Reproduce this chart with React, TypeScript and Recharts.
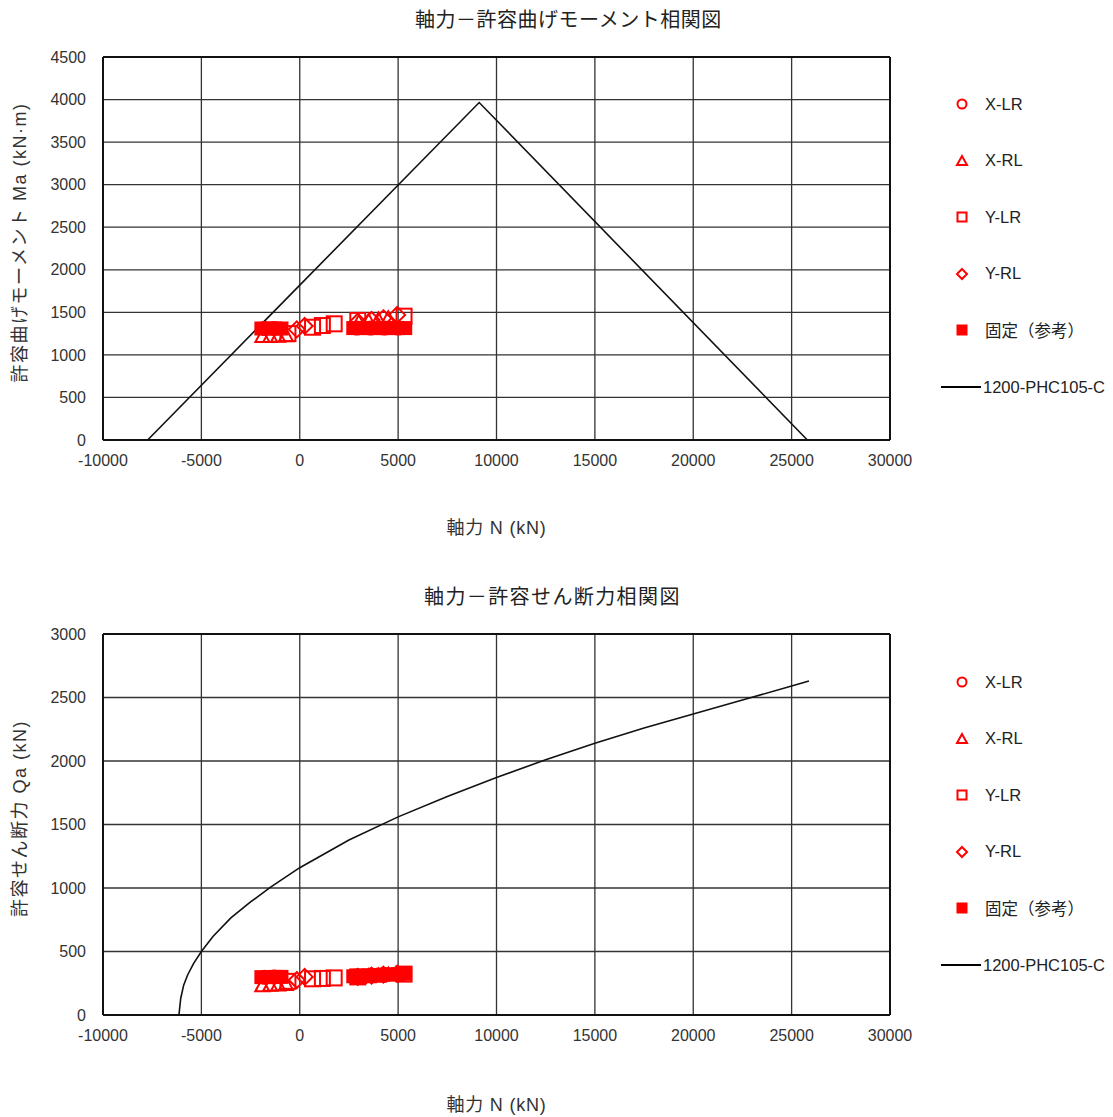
import React from "react";
import {
  ComposedChart,
  Scatter,
  Line,
  XAxis,
  YAxis,
  CartesianGrid,
  ReferenceLine,
} from "recharts";

const RED = "#ff0000";
const FONT = '"Liberation Sans", "Noto Sans CJK JP", sans-serif';

const nTicks = [-10000, -5000, 0, 5000, 10000, 15000, 20000, 25000, 30000];
const maTicks = [0, 500, 1000, 1500, 2000, 2500, 3000, 3500, 4000, 4500];
const qaTicks = [0, 500, 1000, 1500, 2000, 2500, 3000];

// X-LR (circles, mostly hidden behind the filled squares)
const xlrN = [-1800, -1300, 2900, 3600, 4300, 5000];
const xlrMa = [1310, 1310, 1315, 1315, 1315, 1315];
const xlrQa = [298, 300, 308, 314, 318, 322];

// X-RL (triangles)
const xrlN = [-1900, -1500, -1100, -700, 3000, 3500, 4000, 4500];
const xrlMa = [1222, 1222, 1225, 1230, 1385, 1400, 1415, 1430];
const xrlQa = [235, 238, 240, 245, 300, 305, 310, 318];

// Y-LR (open squares)
const ylrN = [-600, 650, 1150, 1750, 2950, 5300];
const ylrMa = [1250, 1325, 1345, 1365, 1405, 1455];
const ylrQa = [265, 285, 288, 292, 300, 322];

// Y-RL (diamonds)
const yrlN = [-150, 250, 2950, 3650, 4250, 4950];
const yrlMa = [1300, 1340, 1390, 1410, 1430, 1470];
const yrlQa = [275, 300, 300, 310, 318, 325];

// 固定(参考) (filled squares)
const fixN = [-1950, -1600, -1250, -930, 2720, 3100, 3480, 3860, 4240, 4620, 5000, 5360];
const fixMa = [1310, 1310, 1310, 1310, 1315, 1315, 1315, 1315, 1315, 1315, 1315, 1315];
const fixQa = [298, 298, 300, 300, 305, 308, 312, 315, 318, 320, 322, 325];

// 1200-PHC105-C capacity curves
const curveMN = [-7730, 9120, 25800];
const curveMa = [0, 3965, 0];
const curveQN = [-6140, -6050, -5900, -5700, -5400, -5000, -4400, -3500, -2500, -1500, 0, 2500, 5000, 7500, 10000, 12500, 15000, 17500, 20000, 22500, 25000, 25880];
const curveQa = [0, 130, 235, 315, 405, 500, 620, 765, 890, 1005, 1160, 1378, 1560, 1720, 1870, 2010, 2140, 2260, 2370, 2480, 2590, 2630];

const legendNames = ["X-LR", "X-RL", "Y-LR", "Y-RL", "固定（参考）", "1200-PHC105-C"];

const pts = (n: number[], v: number[]) => n.map((x, i) => ({ n: x, v: v[i] }));

const Circle = (p: any) => (
  <circle cx={p.cx} cy={p.cy} r={6.5} fill="none" stroke={RED} strokeWidth={2} />
);
const Triangle = (p: any) => (
  <polygon
    points={`${p.cx},${p.cy - 7} ${p.cx - 7},${p.cy + 6} ${p.cx + 7},${p.cy + 6}`}
    fill="none"
    stroke={RED}
    strokeWidth={2}
  />
);
const OpenSquare = (p: any) => (
  <rect x={p.cx - 7.5} y={p.cy - 7.5} width={15} height={15} fill="none" stroke={RED} strokeWidth={2} />
);
const Diamond = (p: any) => (
  <polygon
    points={`${p.cx},${p.cy - 8} ${p.cx + 8},${p.cy} ${p.cx},${p.cy + 8} ${p.cx - 8},${p.cy}`}
    fill="none"
    stroke={RED}
    strokeWidth={2}
  />
);
const FilledSquare = (p: any) => (
  <rect x={p.cx - 7} y={p.cy - 7} width={14} height={14} fill={RED} />
);

const LegendIcon = ({ i }: { i: number }) => {
  if (i === 5)
    return (
      <svg width={42} height={20}>
        <line x1={0} y1={10} x2={40} y2={10} stroke="#000" strokeWidth={2} />
      </svg>
    );
  return (
    <svg width={42} height={20}>
      {i === 0 && <circle cx={21} cy={10} r={4.5} fill="none" stroke={RED} strokeWidth={2} />}
      {i === 1 && <polygon points="21,5 16,14 26,14" fill="none" stroke={RED} strokeWidth={2} />}
      {i === 2 && <rect x={16.5} y={5.5} width={9} height={9} fill="none" stroke={RED} strokeWidth={2} />}
      {i === 3 && <polygon points="21,5 26,10 21,15 16,10" fill="none" stroke={RED} strokeWidth={2} />}
      {i === 4 && <rect x={15.5} y={4.5} width={11} height={11} fill={RED} />}
    </svg>
  );
};

const Legend = ({ top }: { top: number }) => (
  <>
    {legendNames.map((name, i) => (
      <div
        key={name}
        style={{
          position: "absolute",
          left: 941,
          top: top + i * 56.6 - 10,
          height: 20,
          display: "flex",
          alignItems: "center",
          fontFamily: FONT,
          fontSize: 16.5,
          color: "#222",
          whiteSpace: "nowrap",
        }}
      >
        <LegendIcon i={i} />
        <span style={{ marginLeft: i === 5 ? 0 : 2 }}>{name}</span>
      </div>
    ))}
  </>
);

type PanelProps = {
  top: number;
  height: number;
  title: string;
  titleLeft: number;
  titleSpacing: number;
  yLabel: string;
  yTicks: number[];
  vals: number[][];
  curveN: number[];
  curveV: number[];
  labelOffset: number;
  bottom: number;
};

const Panel = (p: PanelProps) => {
  const yMax = p.yTicks[p.yTicks.length - 1];
  return (
    <>
      <div
        style={{
          position: "absolute",
          left: p.titleLeft,
          top: p.top + 4,
          fontFamily: FONT,
          fontSize: 20,
          letterSpacing: p.titleSpacing,
          color: "#222",
          whiteSpace: "nowrap",
        }}
      >
        {p.title}
      </div>
      <div style={{ position: "absolute", left: 0, top: p.top }}>
        <ComposedChart
          width={1113}
          height={p.height}
          margin={{ top: 57, right: 223, bottom: p.bottom, left: 0 }}
        >
          <CartesianGrid stroke="#333" strokeWidth={1.3} />
          <XAxis
            type="number"
            dataKey="n"
            domain={[-10000, 30000]}
            ticks={nTicks}
            interval={0}
            height={100}
            tickLine={false}
            tickSize={0}
            tickMargin={15}
            axisLine={{ stroke: "#111", strokeWidth: 2 }}
            tick={{ fill: "#333", fontSize: 16, fontFamily: FONT }}
            label={{
              value: "軸力 N (kN)",
              position: "insideBottom",
              offset: p.labelOffset,
              fill: "#333",
              fontSize: 18,
              letterSpacing: 0.8,
              fontFamily: FONT,
            }}
          />
          <YAxis
            type="number"
            dataKey="v"
            domain={[0, yMax]}
            ticks={p.yTicks}
            interval={0}
            width={103}
            tickLine={false}
            tickSize={0}
            tickMargin={17}
            axisLine={{ stroke: "#111", strokeWidth: 2 }}
            tick={{ fill: "#333", fontSize: 16, fontFamily: FONT }}
            label={{
              value: p.yLabel,
              angle: -90,
              position: "insideLeft",
              offset: 20,
              dy: -6,
              fill: "#333",
              fontSize: 18,
              letterSpacing: 1.5,
              fontFamily: FONT,
              style: { textAnchor: "middle" },
            }}
          />
          <ReferenceLine y={yMax} stroke="#111" strokeWidth={2} />
          <ReferenceLine x={30000} stroke="#111" strokeWidth={2} />
          <Scatter name="X-LR" data={pts(xlrN, p.vals[0])} shape={Circle} isAnimationActive={false} />
          <Scatter name="X-RL" data={pts(xrlN, p.vals[1])} shape={Triangle} isAnimationActive={false} />
          <Scatter name="Y-LR" data={pts(ylrN, p.vals[2])} shape={OpenSquare} isAnimationActive={false} />
          <Scatter name="Y-RL" data={pts(yrlN, p.vals[3])} shape={Diamond} isAnimationActive={false} />
          <Scatter name="固定（参考）" data={pts(fixN, p.vals[4])} shape={FilledSquare} isAnimationActive={false} />
          <Line
            name="1200-PHC105-C"
            data={pts(p.curveN, p.curveV)}
            dataKey="v"
            type="linear"
            stroke="#111"
            strokeWidth={1.6}
            dot={false}
            activeDot={false}
            isAnimationActive={false}
          />
        </ComposedChart>
      </div>
    </>
  );
};

export default function App() {
  return (
    <div
      style={{
        position: "absolute",
        left: 0,
        top: 0,
        width: 1113,
        height: 1117,
        background: "#fff",
        overflow: "hidden",
      }}
    >
      <Panel
        top={0}
        height={560}
        bottom={20}
        labelOffset={6}
        title="軸力－許容曲げモーメント相関図"
        titleLeft={415}
        titleSpacing={0.5}
        yLabel="許容曲げモーメント Ma (kN·m)"
        yTicks={maTicks}
        vals={[xlrMa, xrlMa, ylrMa, yrlMa, fixMa]}
        curveN={curveMN}
        curveV={curveMa}
      />
      <Legend top={104} />
      <Panel
        top={577}
        height={540}
        bottom={2}
        labelOffset={4}
        title="軸力－許容せん断力相関図"
        titleLeft={424}
        titleSpacing={1.4}
        yLabel="許容せん断力 Qa (kN)"
        yTicks={qaTicks}
        vals={[xlrQa, xrlQa, ylrQa, yrlQa, fixQa]}
        curveN={curveQN}
        curveV={curveQa}
      />
      <Legend top={682} />
    </div>
  );
}
